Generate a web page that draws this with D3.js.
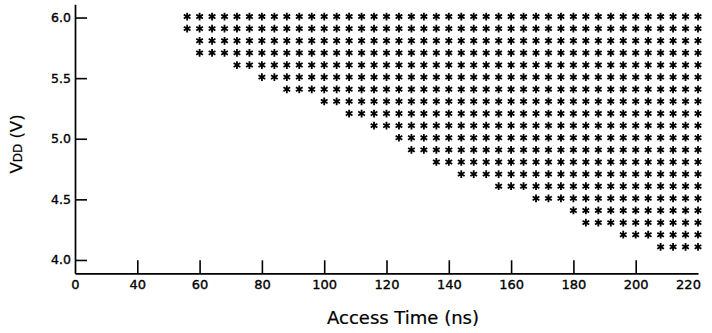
<!DOCTYPE html>
<html>
<head>
<meta charset="utf-8">
<script src="https://cdn.jsdelivr.net/npm/d3@7"></script>
<style>
  html, body { margin: 0; padding: 0; background: #fff; }
  svg { display: block; }
  text { font-family: "DejaVu Sans", sans-serif; fill: #000; }
</style>
</head>
<body>
<svg id="chart" width="712" height="333"></svg>
<script>
// ---- data ----
const vddLevels = [6.0, 5.9, 5.8, 5.7, 5.6, 5.5, 5.4, 5.3, 5.2, 5.1, 5.0, 4.9, 4.8, 4.7, 4.6, 4.5, 4.4, 4.3, 4.2, 4.1];
// shortest passing access time (ns) at each VDD level; all longer tested times pass
const minPassAccess = [56, 56, 60, 60, 72, 80, 88, 100, 108, 116, 124, 128, 136, 144, 156, 168, 180, 184, 196, 208];
// tested access times (ns)
const accessTimes = [56, 60, 64, 68, 72, 76, 80, 84, 88, 92, 96, 100, 104, 108, 112, 116, 120, 124, 128, 132,
                     136, 140, 144, 148, 152, 156, 160, 164, 168, 172, 176, 180, 184, 188, 192, 196, 200, 204,
                     208, 212, 216, 220];
const xTickValues = [20, 40, 60, 80, 100, 120, 140, 160, 180, 200, 220];
const xTickLabels = ["0", "40", "60", "80", "100", "120", "140", "160", "180", "200", "220"];
const yTickValues = [4.0, 4.5, 5.0, 5.5, 6.0];
const yTickLabels = ["4.0", "4.5", "5.0", "5.5", "6.0"];

const passPoints = [];
vddLevels.forEach((v, i) => {
  accessTimes.forEach(t => { if (t >= minPassAccess[i]) passPoints.push({ t, v }); });
});

// ---- layout ----
const svg = d3.select("#chart");
const x = d3.scaleLinear().domain([20, 220]).range([75, 698]);
const y = d3.scaleLinear().domain([3.89, 6.11]).range([273.3, 4.2]);

// asterisk symbol (three crossing strokes, one vertical)
const asterisk = {
  draw(ctx, size) {
    const r = Math.sqrt(size) / 2;
    for (let k = 0; k < 3; k++) {
      const a = Math.PI / 2 + k * Math.PI / 3;
      ctx.moveTo(r * Math.cos(a), r * Math.sin(a));
      ctx.lineTo(-r * Math.cos(a), -r * Math.sin(a));
    }
  }
};

svg.append("g")
  .selectAll("path")
  .data(passPoints)
  .join("path")
  .attr("transform", d => `translate(${x(d.t)},${y(d.v) - 1})`)
  .attr("d", d3.symbol().type(asterisk).size(60))
  .attr("fill", "none")
  .attr("stroke", "#000")
  .attr("stroke-width", 1.8);

// x axis
const xAxis = d3.axisBottom(x)
  .tickValues(xTickValues)
  .tickFormat((d, i) => xTickLabels[i])
  .tickSizeInner(-13)
  .tickSizeOuter(0)
  .tickPadding(6);
const gx = svg.append("g").attr("transform", `translate(0,${y(3.89)})`).call(xAxis);
gx.select(".domain").attr("stroke-width", 1.7);
gx.selectAll(".tick line").attr("stroke-width", 1.6)
  .filter(d => d === 20 || d === 220).remove();
gx.selectAll(".tick text")
  .style("font-size", "13px")
  .style("font-family", "DejaVu Sans, sans-serif")
  .attr("stroke", "#000").attr("stroke-width", 0.35)
  .attr("dx", d => d === 220 ? -10 : 0);

// y axis
const yAxis = d3.axisLeft(y)
  .tickValues(yTickValues)
  .tickFormat((d, i) => yTickLabels[i])
  .tickSizeInner(-12)
  .tickSizeOuter(0)
  .tickPadding(4);
const gy = svg.append("g").attr("transform", `translate(${x(20)},0)`).call(yAxis);
gy.select(".domain").attr("stroke-width", 1.7);
gy.selectAll(".tick line").attr("stroke-width", 1.6);
gy.selectAll(".tick text")
  .style("font-size", "12.5px")
  .style("font-family", "DejaVu Sans, sans-serif")
  .attr("stroke", "#000").attr("stroke-width", 0.35);

// axis titles
svg.append("text")
  .attr("x", 403).attr("y", 324)
  .attr("text-anchor", "middle")
  .attr("stroke", "#000").attr("stroke-width", 0.2)
  .style("font-size", "18px")
  .text("Access Time (ns)");

const yl = svg.append("text")
  .attr("transform", "translate(22,144) rotate(-90)")
  .attr("text-anchor", "middle")
  .attr("stroke", "#000").attr("stroke-width", 0.2)
  .style("font-size", "16.5px");
yl.append("tspan").text("V");
yl.append("tspan").style("font-size", "12px").text("DD");
yl.append("tspan").text(" (V)");
</script>
</body>
</html>
